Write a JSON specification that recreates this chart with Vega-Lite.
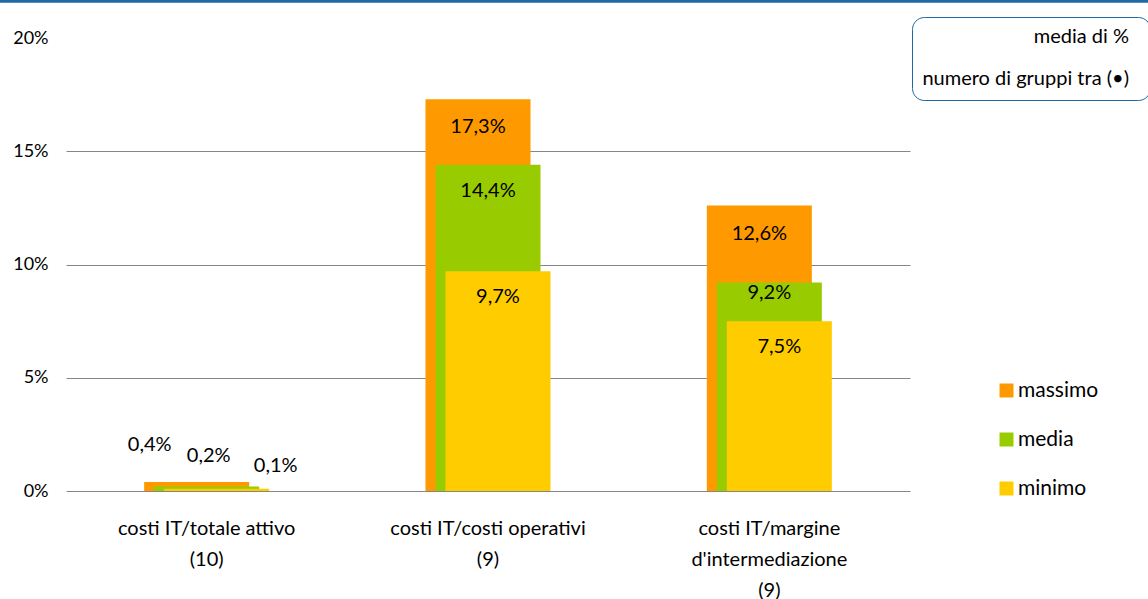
{
  "$schema": "https://vega.github.io/schema/vega-lite/v6.json",
  "autosize": "none",
  "width": 844,
  "height": 453,
  "padding": {"left": 66, "top": 38, "right": 238, "bottom": 108},
  "background": "white",
  "config": {
    "font": "Lato",
    "view": {"stroke": null},
    "locale": {"number": {"decimal": ",", "thousands": ".", "grouping": [3], "currency": ["€", ""]}}
  },
  "data": {
    "values": [
      {"categoria": "costi IT/totale attivo\n(10)", "serie": "massimo", "valore": 0.004},
      {"categoria": "costi IT/totale attivo\n(10)", "serie": "media", "valore": 0.002},
      {"categoria": "costi IT/totale attivo\n(10)", "serie": "minimo", "valore": 0.001},
      {"categoria": "costi IT/costi operativi\n(9)", "serie": "massimo", "valore": 0.173},
      {"categoria": "costi IT/costi operativi\n(9)", "serie": "media", "valore": 0.144},
      {"categoria": "costi IT/costi operativi\n(9)", "serie": "minimo", "valore": 0.097},
      {"categoria": "costi IT/margine\nd'intermediazione\n(9)", "serie": "massimo", "valore": 0.126},
      {"categoria": "costi IT/margine\nd'intermediazione\n(9)", "serie": "media", "valore": 0.092},
      {"categoria": "costi IT/margine\nd'intermediazione\n(9)", "serie": "minimo", "valore": 0.075}
    ]
  },
  "layer": [
    {
      "data": {"values": [{"nota": "media di %"}]},
      "mark": {"type": "rule", "color": "#1F6AA5"},
      "encoding": {
        "x": {"datum": -0.0782, "type": "quantitative", "scale": {"domain": [0, 1], "nice": false, "zero": false}, "axis": null},
        "x2": {"datum": 1.282},
        "y": {"datum": 0.2162, "type": "quantitative", "scale": {"domain": [0, 0.2], "nice": false}},
        "size": {
          "field": "nota", "type": "nominal", "scale": {"range": [3, 3]},
          "legend": {
            "orient": "none", "legendX": 846, "legendY": -21,
            "title": ["media di %", "numero di gruppi tra (•)"],
            "titleFontSize": 20, "titleFontWeight": "normal", "titleColor": "#000000",
            "titleAlign": "right", "titleAnchor": "start",
            "titleLineHeight": 42, "titlePadding": 0, "titleLimit": 500,
            "strokeColor": "#1F6AA5", "cornerRadius": 12, "padding": 10,
            "symbolOpacity": 0, "symbolSize": 0, "symbolStrokeWidth": 0,
            "labelOpacity": 0, "labelFontSize": 1, "rowPadding": 0
          }
        }
      }
    },
    {
      "encoding": {
        "x": {
          "field": "categoria", "type": "nominal", "sort": null,
          "scale": {"paddingInner": 0, "paddingOuter": 0},
          "axis": {
            "title": null, "labelAngle": 0, "domain": false, "ticks": false, "grid": false,
            "labelExpr": "split(datum.label, '\\n')", "labelLimit": 400,
            "labelFontSize": 20, "labelLineHeight": 31, "labelColor": "#000000", "labelPadding": 27
          }
        },
        "y": {
          "field": "valore", "type": "quantitative",
          "scale": {"domain": [0, 0.2], "nice": false},
          "axis": {
            "title": null, "format": ".0%", "values": [0, 0.05, 0.1, 0.15, 0.2],
            "domain": false, "ticks": false, "labelFontSize": 18, "labelColor": "#000000", "labelPadding": 18,
            "grid": true, "gridColor": "#868686", "gridWidth": 1,
            "gridOpacity": {"condition": {"test": "datum.value >= 0.2", "value": 0}, "value": 1}
          }
        }
      },
      "layer": [
        {
          "transform": [{"filter": "datum.serie == 'massimo'"}],
          "mark": {"type": "bar", "width": 105, "xOffset": -10},
          "encoding": {
            "color": {
              "field": "serie", "type": "nominal",
              "scale": {"domain": ["massimo", "media", "minimo"], "range": ["#FF9900", "#99CC00", "#FFCC00"]},
              "legend": {
                "orient": "none", "legendX": 930, "legendY": 342, "title": null,
                "symbolType": "square", "symbolSize": 196, "symbolStrokeWidth": 0,
                "labelFontSize": 21, "labelColor": "#000000", "labelOffset": 1,
                "rowPadding": 27, "padding": 0
              }
            }
          }
        },
        {
          "transform": [{"filter": "datum.serie == 'media'"}],
          "mark": {"type": "bar", "width": 105, "xOffset": 0},
          "encoding": {"color": {"field": "serie", "type": "nominal"}}
        },
        {
          "transform": [{"filter": "datum.serie == 'minimo'"}],
          "mark": {"type": "bar", "width": 105, "xOffset": 10},
          "encoding": {"color": {"field": "serie", "type": "nominal"}}
        },
        {
          "transform": [{"filter": "datum.serie == 'massimo' && datum.valore >= 0.01"}],
          "mark": {"type": "text", "xOffset": -10, "dy": 28, "baseline": "middle", "fontSize": 20, "color": "#000000"},
          "encoding": {"text": {"field": "valore", "type": "quantitative", "format": ".1%"}}
        },
        {
          "transform": [{"filter": "datum.serie == 'massimo' && datum.valore < 0.01"}],
          "mark": {"type": "text", "xOffset": -10, "dx": -47, "dy": -37, "baseline": "middle", "fontSize": 20, "color": "#000000"},
          "encoding": {"text": {"field": "valore", "type": "quantitative", "format": ".1%"}}
        },
        {
          "transform": [{"filter": "datum.serie == 'media' && datum.valore >= 0.12"}],
          "mark": {"type": "text", "dy": 26, "baseline": "middle", "fontSize": 20, "color": "#000000"},
          "encoding": {"text": {"field": "valore", "type": "quantitative", "format": ".1%"}}
        },
        {
          "transform": [{"filter": "datum.serie == 'media' && datum.valore >= 0.01 && datum.valore < 0.12"}],
          "mark": {"type": "text", "dy": 10, "baseline": "middle", "fontSize": 20, "color": "#000000"},
          "encoding": {"text": {"field": "valore", "type": "quantitative", "format": ".1%"}}
        },
        {
          "transform": [{"filter": "datum.serie == 'media' && datum.valore < 0.01"}],
          "mark": {"type": "text", "dx": 2, "dy": -30, "baseline": "middle", "fontSize": 20, "color": "#000000"},
          "encoding": {"text": {"field": "valore", "type": "quantitative", "format": ".1%"}}
        },
        {
          "transform": [{"filter": "datum.serie == 'minimo' && datum.valore >= 0.01"}],
          "mark": {"type": "text", "xOffset": 10, "dy": 26, "baseline": "middle", "fontSize": 20, "color": "#000000"},
          "encoding": {"text": {"field": "valore", "type": "quantitative", "format": ".1%"}}
        },
        {
          "transform": [{"filter": "datum.serie == 'minimo' && datum.valore < 0.01"}],
          "mark": {"type": "text", "xOffset": 10, "dx": 59, "dy": -23, "baseline": "middle", "fontSize": 20, "color": "#000000"},
          "encoding": {"text": {"field": "valore", "type": "quantitative", "format": ".1%"}}
        }
      ]
    }
  ],
  "resolve": {"scale": {"x": "independent"}}
}
